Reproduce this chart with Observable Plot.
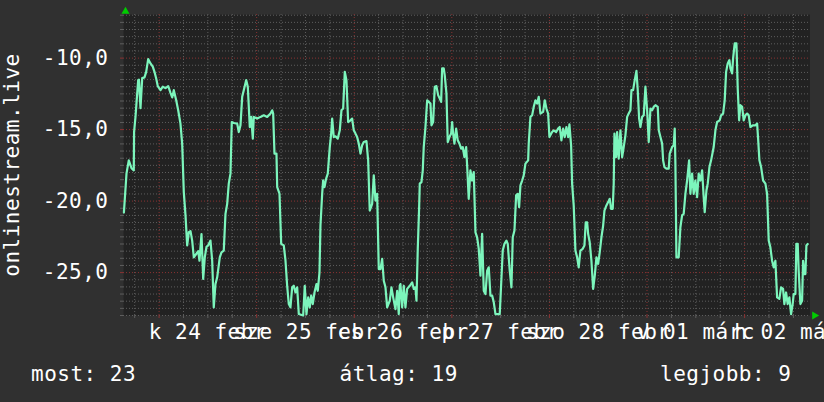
<!DOCTYPE html>
<html><head><meta charset="utf-8">
<script src="https://cdn.jsdelivr.net/npm/d3@7"></script>
<script src="https://cdn.jsdelivr.net/npm/@observablehq/plot@0.6"></script>
<style>
html,body{margin:0;padding:0;background:#303030;overflow:hidden;width:824px;height:402px}
#chart{position:relative;width:824px;height:402px}
.legend{position:absolute;left:0;top:345px;width:824px;height:57px;font-family:"DejaVu Sans Mono",monospace;font-size:21px;letter-spacing:0.5px;color:#fff}
.legend span{position:absolute;top:17px;line-height:normal;white-space:pre}
</style></head><body><div id="chart"></div>
<script>
const yTitle = "onlinestream.live";
const xLabels = ["k 24 febr", "sze 25 febr", "cs 26 febr", "p 27 febr", "szo 28 febr", "v 01 márc", "h 02 márc"];
const yTicks = [-25, -20, -15, -10];
const legendNames = ["most", "átlag", "legjobb"];
const legendValues = [23, 19, 9];
// hours since 2026-02-23 15:15 UTC
const hours = [0.1, 0.74, 1.3, 1.97, 2.53, 2.6, 2.95, 3.61, 3.8, 4.18, 4.6, 5.16, 5.58, 6.07, 6.64, 7.2, 7.62, 8.04, 8.43, 9.1, 9.66, 10.33, 11.0, 11.56, 11.98, 12.37, 12.96, 13.45, 14.0, 14.43, 14.83, 15.25, 15.66, 16.06, 16.48, 16.89, 17.29, 17.88, 18.37, 18.69, 19.18, 19.6, 19.99, 20.41, 20.83, 21.39, 21.81, 22.2, 22.62, 23.04, 23.68, 24.1, 24.66, 25.08, 25.5, 25.89, 26.31, 26.63, 27.12, 27.96, 28.35, 28.77, 29.19, 29.58, 30.17, 30.57, 31.06, 31.4, 31.8, 32.04, 32.88, 33.69, 34.5, 35.34, 36.15, 36.57, 36.81, 37.13, 37.62, 37.8, 38.36, 38.78, 39.42, 39.84, 40.25, 40.65, 41.06, 41.48, 41.88, 42.29, 42.71, 43.11, 44.19, 44.58, 45.0, 45.42, 45.81, 46.16, 46.55, 46.97, 47.46, 47.78, 48.2, 48.44, 48.86, 49.1, 49.43, 49.84, 50.24, 50.73, 51.07, 51.32, 51.71, 52.13, 52.7, 53.19, 53.6, 54.02, 54.42, 54.83, 55.25, 55.82, 56.23, 56.63, 57.05, 57.46, 57.86, 58.28, 58.69, 59.09, 59.75, 60.17, 60.56, 61.15, 61.55, 61.97, 62.38, 62.78, 63.2, 63.61, 64.01, 64.43, 64.84, 65.48, 65.9, 66.32, 66.88, 67.3, 67.7, 67.94, 68.11, 68.53, 68.93, 69.34, 69.76, 70.4, 70.99, 71.39, 71.8, 72.05, 72.37, 72.71, 72.86, 73.28, 73.6, 73.84, 74.26, 74.68, 75.07, 75.49, 75.74, 76.15, 76.55, 76.96, 77.38, 77.77, 78.12, 78.36, 78.76, 79.0, 79.42, 79.74, 80.16, 80.58, 80.82, 81.07, 81.39, 81.81, 82.2, 82.62, 83.04, 83.43, 83.85, 84.27, 84.51, 84.9, 85.32, 85.74, 86.14, 86.56, 86.97, 87.37, 87.79, 88.2, 88.6, 89.02, 89.43, 89.83, 90.25, 90.66, 91.06, 91.48, 92.53, 92.88, 93.27, 93.69, 94.18, 94.5, 94.99, 95.41, 95.73, 96.15, 96.56, 96.96, 97.3, 97.62, 98.04, 98.43, 98.85, 99.52, 99.66, 100.08, 100.5, 100.89, 101.31, 101.73, 102.12, 102.54, 103.2, 103.6, 104.01, 104.43, 104.75, 105.41, 105.81, 106.4, 106.89, 107.28, 107.7, 108.12, 108.51, 108.93, 109.35, 109.67, 110.08, 110.33, 110.72, 111.14, 111.56, 111.95, 112.37, 112.94, 113.36, 113.68, 114.02, 114.27, 114.66, 115.08, 115.5, 115.9, 116.31, 116.73, 117.12, 117.54, 117.96, 118.28, 118.77, 119.19, 119.58, 119.92, 120.32, 120.56, 120.74, 121.15, 121.4, 121.79, 122.21, 122.63, 123.02, 123.44, 123.86, 124.25, 124.67, 124.92, 125.33, 125.73, 126.15, 126.47, 126.81, 127.13, 127.55, 127.94, 128.36, 128.78, 129.17, 129.59, 130.01, 130.4, 130.82, 131.39, 131.64, 132.05, 132.47, 132.71, 133.03, 133.52, 134.09, 134.33, 134.92, 135.32, 135.56, 135.73, 135.98, 136.54, 136.96, 137.38, 137.77, 138.19, 138.61, 139.1, 139.42, 139.84, 140.23, 140.65, 141.07, 141.46, 141.88, 142.3, 142.69, 142.94, 143.36, 143.68, 144.1, 144.51, 145.15, 145.57, 145.99, 146.63, 146.97, 147.46, 147.86, 148.2, 148.6, 149.01, 149.26, 149.68, 149.92, 150.32, 150.74, 151.06, 151.4, 151.72, 152.14, 152.53, 152.95, 153.37, 153.76, 154.18, 154.75, 155.41, 155.83, 156.07, 156.39, 156.81, 157.3, 157.87, 158.28, 158.68, 159.09, 159.51, 159.9, 160.32, 160.74, 161.3, 161.72, 162.21, 162.53, 162.95, 163.34, 163.76, 164.18, 164.57, 164.82, 165.24, 165.48, 165.81, 166.05, 166.47, 166.89, 167.13, 167.45, 167.7, 167.95, 168.27];
const ranks = [-20.8, -18.06, -17.15, -17.7, -17.85, -15.17, -14.1, -11.54, -11.5, -13.5, -11.4, -11.35, -10.96, -10.07, -10.37, -10.6, -10.96, -11.42, -11.96, -12.24, -12.0, -12.1, -11.96, -12.43, -12.75, -12.24, -12.95, -13.65, -14.56, -15.98, -19.37, -21.0, -23.1, -22.18, -22.1, -22.76, -23.93, -23.7, -23.5, -24.17, -22.3, -25.44, -23.93, -23.2, -23.1, -22.76, -24.17, -27.43, -25.8, -25.33, -23.93, -23.58, -23.46, -20.89, -20.19, -18.78, -18.08, -14.47, -14.54, -14.58, -15.17, -14.7, -12.71, -12.24, -11.54, -12.0, -14.82, -14.11, -15.63, -14.11, -14.23, -14.11, -14.0, -14.11, -13.88, -13.65, -13.88, -16.68, -16.68, -19.02, -19.47, -22.99, -23.1, -24.17, -25.92, -27.2, -27.43, -26.03, -25.92, -26.39, -26.03, -27.9, -28.0, -25.92, -27.9, -26.73, -27.43, -26.6, -27.2, -26.39, -25.8, -26.27, -24.98, -21.71, -19.49, -18.55, -19.02, -18.43, -18.08, -16.22, -15.28, -14.23, -15.52, -15.47, -15.63, -15.05, -13.65, -13.53, -10.96, -11.54, -14.47, -14.35, -14.23, -15.05, -15.28, -15.52, -15.98, -16.68, -16.1, -15.87, -15.8, -17.15, -20.66, -20.19, -18.2, -19.96, -19.49, -24.75, -24.75, -24.04, -25.57, -26.03, -27.43, -26.97, -26.03, -26.73, -27.55, -26.27, -27.9, -25.92, -25.8, -27.43, -25.92, -27.43, -26.14, -25.92, -25.68, -26.14, -26.03, -26.97, -23.34, -20.42, -18.78, -18.67, -17.85, -16.22, -14.82, -12.95, -13.06, -13.18, -14.7, -14.47, -12.0, -11.96, -12.59, -12.83, -13.06, -10.72, -10.72, -11.19, -12.47, -15.87, -15.52, -15.28, -14.47, -15.28, -15.98, -14.93, -15.75, -15.98, -16.33, -16.22, -16.92, -16.22, -17.5, -19.84, -17.85, -18.56, -17.97, -22.18, -22.53, -23.34, -25.21, -22.29, -26.27, -26.5, -24.87, -24.63, -26.61, -26.61, -27.08, -27.9, -27.9, -25.8, -23.46, -22.99, -22.76, -22.99, -24.87, -26.03, -22.53, -22.06, -19.6, -19.49, -20.42, -18.9, -18.56, -18.2, -17.38, -17.15, -15.98, -14.11, -14.0, -13.41, -12.95, -13.18, -12.71, -13.88, -13.76, -12.95, -13.53, -13.88, -15.52, -15.17, -15.05, -15.17, -14.93, -14.82, -15.75, -14.93, -15.52, -14.82, -15.52, -14.63, -16.1, -18.78, -20.3, -23.46, -23.93, -24.63, -23.46, -23.34, -23.1, -21.48, -21.48, -22.29, -22.88, -24.17, -26.14, -25.21, -23.93, -24.39, -23.58, -22.53, -21.71, -20.66, -20.3, -20.07, -19.84, -20.54, -20.54, -18.78, -15.28, -16.92, -15.17, -17.03, -15.05, -16.92, -16.22, -15.4, -14.11, -13.88, -13.65, -12.24, -12.24, -11.54, -10.89, -12.24, -14.23, -14.82, -14.11, -14.0, -12.0, -13.65, -15.87, -13.53, -13.65, -13.41, -13.29, -13.41, -15.05, -15.52, -15.98, -17.15, -17.62, -17.73, -17.73, -16.68, -16.22, -16.1, -14.93, -17.38, -23.93, -23.93, -21.83, -21.0, -20.89, -19.49, -18.56, -17.15, -19.49, -18.08, -19.49, -18.56, -19.72, -18.08, -18.56, -17.85, -19.72, -20.78, -19.26, -18.78, -17.62, -17.15, -16.22, -15.05, -14.47, -14.35, -14.0, -13.88, -12.95, -10.96, -10.37, -10.14, -10.72, -11.07, -10.02, -8.97, -8.97, -12.12, -14.35, -13.29, -13.41, -14.35, -14.0, -13.88, -14.0, -14.82, -14.7, -14.7, -14.58, -15.63, -17.15, -17.62, -18.56, -18.78, -19.49, -22.76, -23.23, -24.17, -24.63, -24.17, -26.73, -26.84, -26.03, -26.14, -27.2, -26.39, -27.2, -26.73, -27.9, -27.2, -26.5, -26.5, -22.99, -22.99, -24.87, -27.2, -26.97, -24.17, -25.1, -25.1, -23.1, -23.0];

if (hours.length !== ranks.length) throw new Error("length mismatch " + hours.length + " vs " + ranks.length);

const x0 = new Date(Date.UTC(2026, 1, 23, 15, 15));
const x1 = new Date(Date.UTC(2026, 2, 2, 16, 5));
const data = hours.map((h, i) => ({t: new Date(+x0 + h * 36e5), v: ranks[i]}));
const dayLines = d3.utcDay.range(new Date(Date.UTC(2026, 1, 24)), x1);
const sixHour = d3.utcHour.every(6).range(x0, x1).filter(d => d.getUTCHours() !== 0);
const noons = dayLines.map(d => new Date(+d + 12 * 36e5));
const labelMap = new Map(noons.map((d, i) => [+d, xLabels[i]]));
const yMinor = d3.range(-28, -6.9, 0.5).filter(v => v % 5 !== 0);

const minorC = "#5e5e5e", majorC = "#8a3232";

const chart = Plot.plot({
  width: 824, height: 345,
  marginLeft: 123, marginRight: 14.5, marginTop: 14, marginBottom: 30,
  x: {type: "utc", domain: [x0, x1], label: null},
  y: {domain: [-28, -6.95], label: null},
  style: {background: "#303030", color: "#fff", fontFamily: "DejaVu Sans Mono", fontSize: "21px", letterSpacing: "0.5px", overflow: "visible"},
  marks: [
    Plot.frame({fill: "#222222", stroke: null}),
    Plot.ruleY(yMinor, {stroke: minorC, strokeDasharray: "1,2"}),
    Plot.ruleX(sixHour, {stroke: minorC, strokeDasharray: "1,2"}),
    Plot.ruleY(yTicks, {stroke: majorC, strokeDasharray: "1,2"}),
    Plot.ruleX(dayLines, {stroke: majorC, strokeDasharray: "1,2"}),
    Plot.axisY(yMinor, {tickSize: 3, tickFormat: () => "", stroke: minorC, label: null}),
    Plot.axisY(yTicks, {tickSize: 3, tickFormat: () => "", stroke: majorC, label: null}),
    Plot.axisY(yTicks, {tickSize: 0, tickPadding: 15, tickFormat: d => d.toFixed(1).replace(".", ","), fill: "#fff", label: null}),
    Plot.axisX(sixHour, {tickSize: 3, tickFormat: () => "", stroke: minorC, label: null}),
    Plot.axisX(dayLines, {tickSize: 3, tickFormat: () => "", stroke: majorC, label: null}),
    Plot.axisX(noons, {tickSize: 0, tickPadding: 9, tickFormat: d => labelMap.get(+d), fill: "#fff", label: null}),
    Plot.text([yTitle], {frameAnchor: "left", textAnchor: "middle", lineAnchor: "middle", rotate: -90, dx: -111, text: d => d, fill: "#fff"}),
    Plot.line(data, {x: "t", y: "v", stroke: "#7cf5bc", strokeWidth: 2.2}),
    Plot.dot([0], {frameAnchor: "top-left", symbol: "triangle", r: 3, fill: "#00cc00", stroke: null, dx: 2, dy: -3}),
    Plot.dot([0], {frameAnchor: "bottom-right", symbol: "triangle", rotate: 90, r: 3, fill: "#00cc00", stroke: null, dx: 4.5})
  ]
});
const root = document.getElementById("chart");
root.appendChild(chart);
const legend = document.createElement("div");
legend.className = "legend";
const lefts = [31, 339.5, 660];
legendNames.forEach((n, i) => {
  const s = document.createElement("span");
  s.textContent = `${n}: ${legendValues[i]}`;
  s.style.left = lefts[i] + "px";
  legend.appendChild(s);
});
root.appendChild(legend);
</script></body></html>
